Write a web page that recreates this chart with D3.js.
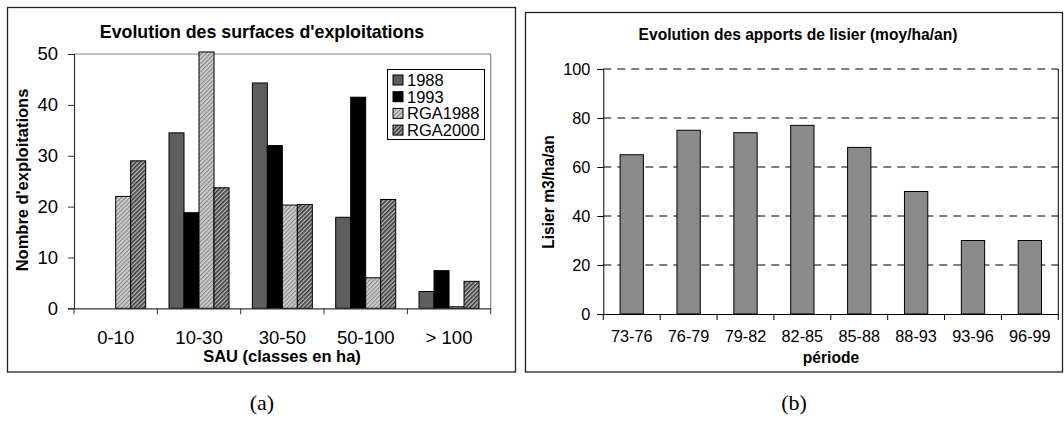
<!DOCTYPE html>
<html><head><meta charset="utf-8">
<script src="https://cdn.jsdelivr.net/npm/d3@7"></script>
<style>
html,body{margin:0;padding:0;background:#fff;}
svg{display:block;font-family:"Liberation Sans",Arial,sans-serif;}
</style></head>
<body>
<svg id="chart" width="1064" height="443"></svg>
<script>
// ---- data (a) ----
const classes = ["0-10","10-30","30-50","50-100","> 100"];
const seriesA = ["1988","1993","RGA1988","RGA2000"];
const v1988    = [0, 34.5, 44.3, 17.9, 3.3];
const v1993    = [0, 18.8, 32.0, 41.5, 7.4];
const vRGA1988 = [22, 50.4, 20.3, 6.0, 0.3];
const vRGA2000 = [29, 23.7, 20.4, 21.4, 5.3];
const ticksA = [0,10,20,30,40,50];
// ---- data (b) ----
const periods = ["73-76","76-79","79-82","82-85","85-88","88-93","93-96","96-99"];
const lisier  = [65, 75, 74, 77, 68, 50, 30, 30];
const ticksB = [0,20,40,60,80,100];

const FONT = "'Liberation Sans', Arial, sans-serif";
const svg = d3.select("#chart");
svg.append("rect").attr("width",1064).attr("height",443).attr("fill","#fff");

const defs = svg.append("defs");
const p1 = defs.append("pattern").attr("id","hatchLight").attr("patternUnits","userSpaceOnUse")
  .attr("width",3).attr("height",3).attr("patternTransform","rotate(45)");
p1.append("rect").attr("width",3).attr("height",3).attr("fill","#d0d0d0");
p1.append("rect").attr("width",1.2).attr("height",3).attr("fill","#8a8a8a");
const p2 = defs.append("pattern").attr("id","hatchDark").attr("patternUnits","userSpaceOnUse")
  .attr("width",3).attr("height",3).attr("patternTransform","rotate(45)");
p2.append("rect").attr("width",3).attr("height",3).attr("fill","#b8b8b8");
p2.append("rect").attr("width",1.6).attr("height",3).attr("fill","#3a3a3a");

const fills = {"1988":"#5e5e5e","1993":"#000","RGA1988":"url(#hatchLight)","RGA2000":"url(#hatchDark)"};
const valuesA = {"1988":v1988,"1993":v1993,"RGA1988":vRGA1988,"RGA2000":vRGA2000};

// ================= Panel (a) =================
const gA = svg.append("g").attr("font-family",FONT);
gA.append("rect").attr("x",7.5).attr("y",7.5).attr("width",508).attr("height",364.5)
  .attr("fill","none").attr("stroke","#222").attr("stroke-width",1.3);

const xA = d3.scaleBand().domain(classes).range([74,490.7]).paddingInner(0.28).paddingOuter(0.14);
const xA1 = d3.scaleBand().domain(seriesA).range([0,xA.bandwidth()]);
const yA = d3.scaleLinear().domain([0,50]).range([308.3,54]);

gA.append("path").attr("d",`M74,${yA(50)}H490.7V${yA(0)}`).attr("fill","none").attr("stroke","#808080").attr("stroke-width",1.2);

classes.forEach((c,i)=>{
  seriesA.forEach(s=>{
    const v = valuesA[s][i];
    if (v<=0) return;
    gA.append("rect")
      .attr("x",xA(c)+xA1(s)).attr("width",xA1.bandwidth())
      .attr("y",yA(v)).attr("height",yA(0)-yA(v))
      .attr("fill",fills[s]).attr("stroke","#000").attr("stroke-width",1);
  });
});

const axYA = gA.append("g").attr("transform","translate(74,0)")
  .call(d3.axisLeft(yA).tickValues(ticksA).tickSize(6).tickPadding(10).tickFormat(d3.format("d")));
axYA.attr("font-family",FONT);
axYA.select(".domain").attr("stroke","#333").attr("stroke-width",1.2);
axYA.selectAll(".tick line").attr("stroke","#333");
axYA.selectAll("text").attr("font-size",18.5).attr("fill","#000");

const axXA = gA.append("g").attr("transform",`translate(0,${yA(0)})`)
  .call(d3.axisBottom(xA).tickSize(0).tickPadding(23));
axXA.attr("font-family",FONT);
axXA.select(".domain").attr("stroke","#333").attr("stroke-width",1.2);
axXA.selectAll("text").attr("font-size",18.5).attr("fill","#000");
const stepA = xA.step();
d3.range(classes.length+1).forEach(i=>{
  const x = 74 + i*stepA;
  gA.append("line").attr("x1",x).attr("x2",x).attr("y1",yA(0)).attr("y2",yA(0)+6).attr("stroke","#333");
});

gA.append("text").attr("x",262).attr("y",38).attr("text-anchor","middle")
  .attr("font-weight","bold").attr("font-size",17.8).text("Evolution des surfaces d'exploitations");
gA.append("text").attr("x",282).attr("y",362).attr("text-anchor","middle")
  .attr("font-weight","bold").attr("font-size",16.5).text("SAU (classes en ha)");
gA.append("text").attr("transform","translate(22,180) rotate(-90)").attr("text-anchor","middle")
  .attr("dominant-baseline","central").attr("font-weight","bold").attr("font-size",16.5).text("Nombre d'exploitations");

const lg = gA.append("g");
lg.append("rect").attr("x",387.5).attr("y",69.5).attr("width",97).attr("height",70)
  .attr("fill","#fff").attr("stroke","#000").attr("stroke-width",1);
seriesA.forEach((s,i)=>{
  const cy = 80 + i*16.7;
  lg.append("rect").attr("x",393).attr("y",cy-5).attr("width",10).attr("height",10)
    .attr("fill",fills[s]).attr("stroke","#000").attr("stroke-width",1);
  lg.append("text").attr("x",407).attr("y",cy).attr("dominant-baseline","central")
    .attr("font-size",16.5).text(s);
});

// ================= Panel (b) =================
const gB = svg.append("g").attr("font-family",FONT);
gB.append("rect").attr("x",525.5).attr("y",12.5).attr("width",537).attr("height",359.5)
  .attr("fill","none").attr("stroke","#222").attr("stroke-width",1.3);

const xB = d3.scaleBand().domain(periods).range([603.3,1058.3]).paddingInner(0.59).paddingOuter(0.295);
const yB = d3.scaleLinear().domain([0,100]).range([314,69]);

ticksB.filter(t=>t>0).forEach(t=>{
  gB.append("line").attr("x1",603.3).attr("x2",1058.3).attr("y1",yB(t)).attr("y2",yB(t))
    .attr("stroke","#000").attr("stroke-width",1).attr("stroke-dasharray","8,6");
});
gB.append("line").attr("x1",1058.3).attr("x2",1058.3).attr("y1",yB(100)).attr("y2",yB(0)).attr("stroke","#000").attr("stroke-width",1);

gB.selectAll("rect.bar").data(periods).enter().append("rect").attr("class","bar")
  .attr("x",d=>xB(d)).attr("width",xB.bandwidth())
  .attr("y",(d,i)=>yB(lisier[i])).attr("height",(d,i)=>yB(0)-yB(lisier[i]))
  .attr("fill","#8a8a8a").attr("stroke","#000").attr("stroke-width",1);

const axYB = gB.append("g").attr("transform","translate(603.3,0)")
  .call(d3.axisLeft(yB).tickValues(ticksB).tickSize(6).tickPadding(7).tickFormat(d3.format("d")));
axYB.attr("font-family",FONT);
axYB.select(".domain").attr("stroke","#000");
axYB.selectAll("text").attr("font-size",16.3).attr("fill","#000");

const axXB = gB.append("g").attr("transform",`translate(0,${yB(0)})`)
  .call(d3.axisBottom(xB).tickSize(0).tickPadding(16));
axXB.attr("font-family",FONT);
axXB.select(".domain").attr("stroke","#000");
axXB.selectAll("text").attr("font-size",16.3).attr("fill","#000");
const stepB = xB.step();
d3.range(periods.length+1).forEach(i=>{
  const x = 603.3 + i*stepB;
  gB.append("line").attr("x1",x).attr("x2",x).attr("y1",yB(0)).attr("y2",yB(0)+6).attr("stroke","#000");
});

gB.append("text").attr("x",798).attr("y",40).attr("text-anchor","middle")
  .attr("font-weight","bold").attr("font-size",15.6).text("Evolution des apports de lisier (moy/ha/an)");
gB.append("text").attr("x",831).attr("y",362.5).attr("text-anchor","middle")
  .attr("font-weight","bold").attr("font-size",15.6).text("période");
gB.append("text").attr("transform","translate(548,192) rotate(-90)").attr("text-anchor","middle")
  .attr("dominant-baseline","central").attr("font-weight","bold").attr("font-size",15.6).text("Lisier m3/ha/an");

svg.append("text").attr("x",262).attr("y",410).attr("text-anchor","middle")
  .attr("font-family","'Liberation Serif', 'Times New Roman', serif").attr("font-size",22).text("(a)");
svg.append("text").attr("x",794).attr("y",410).attr("text-anchor","middle")
  .attr("font-family","'Liberation Serif', 'Times New Roman', serif").attr("font-size",22).text("(b)");
</script>
</body></html>
